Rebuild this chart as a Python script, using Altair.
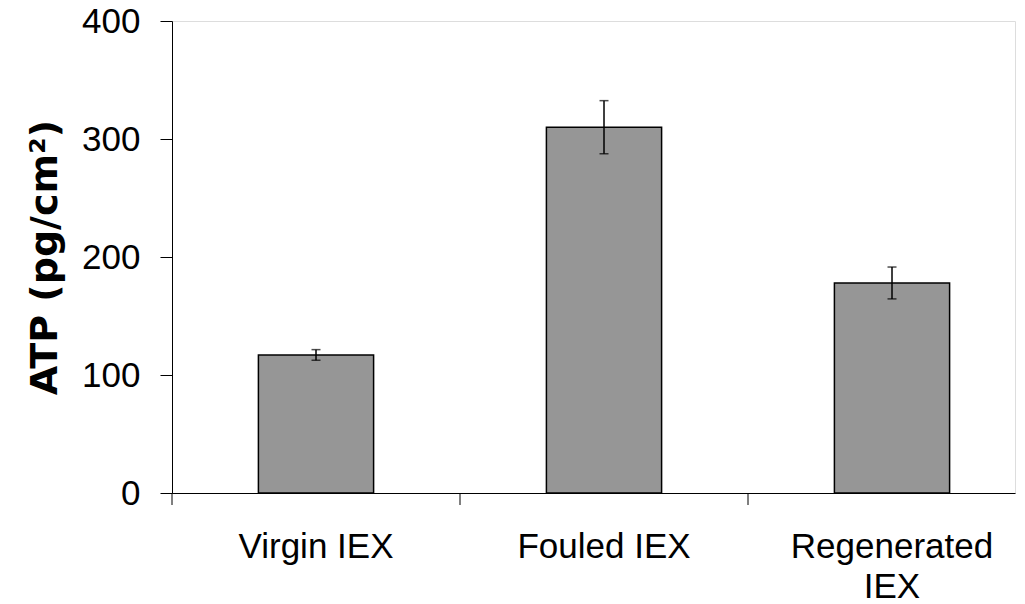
import altair as alt
import pandas as pd

categories = ["Virgin IEX", "Fouled IEX", "Regenerated IEX"]
atp = [117, 310, 178]
err = [4.5, 22.5, 13.5]

df = pd.DataFrame({"cat": categories, "atp": atp, "err": err})
df["lo"] = df["atp"] - df["err"]
df["hi"] = df["atp"] + df["err"]

W, H = 843, 472
TITLE = "ATP (pg/cm²)"

xscale = alt.Scale(domain=categories, paddingInner=0.6, paddingOuter=0.26354, align=0.5692)
x = alt.X("cat:N", scale=xscale, sort=categories, title=None,
          axis=alt.Axis(labelAngle=0, ticks=False, tickSize=0, labelPadding=36,
                        labelFont="Liberation Sans", labelFontSize=35, labelColor="black",
                        labelLineHeight=40, labelBaseline="top", labelLimit=0,
                        labelExpr="datum.label == 'Regenerated IEX' ? ['Regenerated', 'IEX'] : datum.label",
                        domainColor="black", domainWidth=1))

y = alt.Y("atp:Q", scale=alt.Scale(domain=[0, 400], nice=False), title=TITLE,
          axis=alt.Axis(values=[0, 100, 200, 300, 400], grid=False, tickSize=12, tickColor="black",
                        tickWidth=1, domainColor="black", domainWidth=1, labelPadding=20,
                        labelFont="Liberation Sans", labelFontSize=35, labelColor="black",
                        titleFont="DejaVu Sans", titleFontWeight="bold", titleFontSize=38,
                        titleColor="black", titlePadding=17))

base = alt.Chart(df)

bars = base.mark_bar(color="#969696", stroke="black", strokeWidth=1.5).encode(x=x, y=y)

errs = base.mark_errorbar(color="black", ticks={"size": 9, "thickness": 1.5},
                          rule={"strokeWidth": 1.5}).encode(
    x=alt.X("cat:N", sort=categories),
    y=alt.Y("lo:Q", title=TITLE),
    y2="hi:Q",
)

xticks = base.mark_rule(color="black", strokeWidth=1, xOffset=-86.4).encode(
    x=alt.X("cat:N", sort=categories, bandPosition=0),
    y=alt.value(H),
    y2=alt.value(H + 12),
)

chart = alt.layer(bars, errs, xticks).properties(
    width=W, height=H,
    autosize=alt.AutoSizeParams(type="none"),
    padding={"left": 164, "top": 13, "right": 2, "bottom": 110},
).configure_view(stroke=None).configure(background="white")

chart.save("out.html", embed_options={"renderer": "svg", "actions": False})
